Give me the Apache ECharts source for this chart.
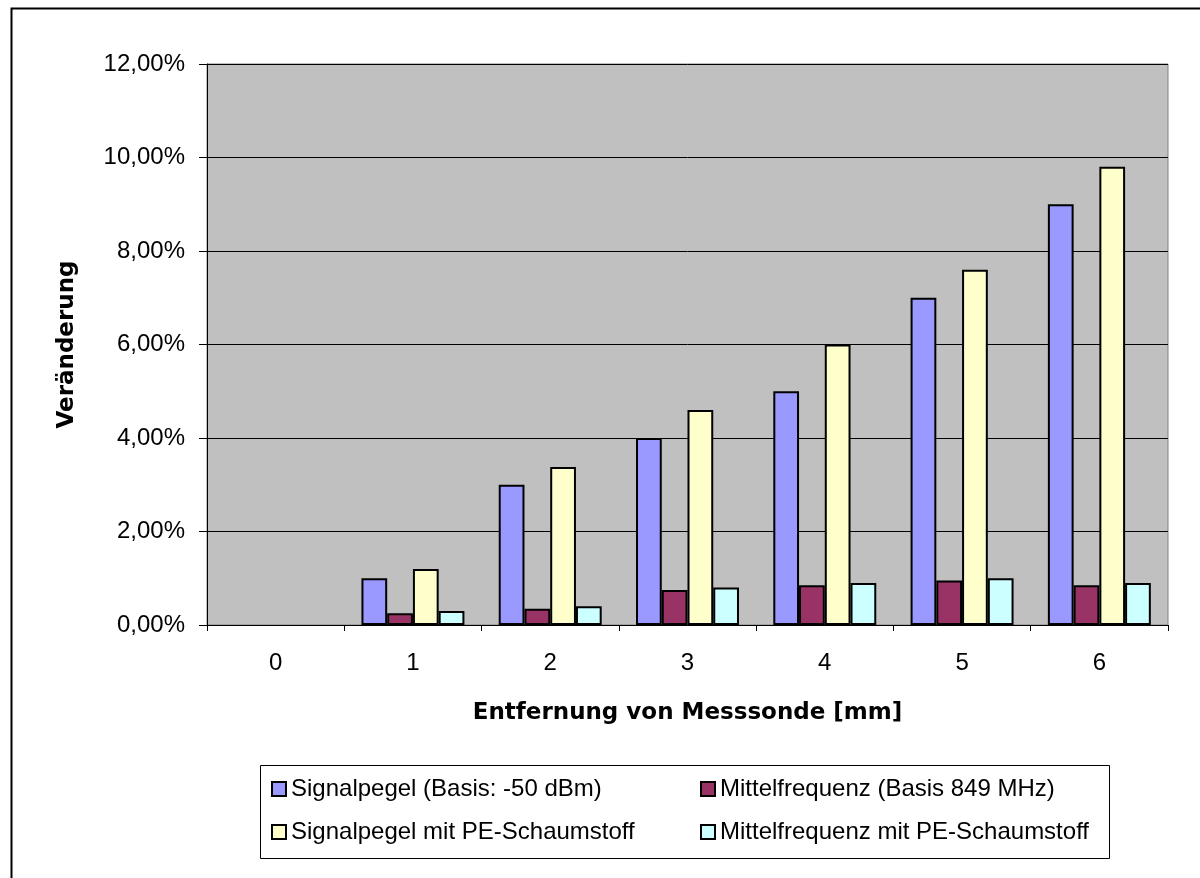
<!DOCTYPE html>
<html>
<head>
<meta charset="utf-8">
<script src="https://cdn.jsdelivr.net/npm/echarts@6/dist/echarts.min.js"></script>
<style>
  html, body { margin: 0; padding: 0; background: #ffffff; }
  #chart { width: 1200px; height: 878px; }
</style>
</head>
<body>
<div id="chart"></div>
<script>
// Distance from probe (mm)
const categories = ['0', '1', '2', '3', '4', '5', '6'];

// Relative change in percent
const signalpegel      = [0, 1.0, 3.0, 4.0, 5.0, 7.0, 9.0];
const mittelfrequenz   = [0, 0.25, 0.35, 0.75, 0.85, 0.95, 0.85];
const signalpegelPE    = [0, 1.2, 3.38, 4.6, 6.0, 7.6, 9.8];
const mittelfrequenzPE = [0, 0.3, 0.4, 0.8, 0.9, 1.0, 0.9];

const seriesNames = [
  'Signalpegel (Basis: -50 dBm)',
  'Mittelfrequenz (Basis 849 MHz)',
  'Signalpegel mit PE-Schaumstoff',
  'Mittelfrequenz mit PE-Schaumstoff'
];
const seriesColors = ['#9999FF', '#993366', '#FFFFCC', '#CCFFFF'];
const seriesData = [signalpegel, mittelfrequenz, signalpegelPE, mittelfrequenzPE];

// y axis: 0 … 12 % in 2 % steps, German decimal comma
const yMin = 0, yMax = 12, yStep = 2;

const FONT = '"Liberation Sans", Arial, Helvetica, sans-serif';
// axis titles are set in a wider bold face
const TITLE_FONT = '"DejaVu Sans", "Liberation Sans", Arial, sans-serif';

function pct(v) {
  return v.toFixed(2).replace('.', ',') + '%';
}

const chart = echarts.init(document.getElementById('chart'), null, { renderer: 'canvas' });

const legendText = { fontFamily: FONT, fontSize: 24, color: '#000' };
const legendCommon = {
  orient: 'vertical',
  top: 777,
  itemWidth: 14,
  itemHeight: 14,
  itemGap: 19,
  padding: 0,
  icon: 'rect',
  textStyle: legendText,
  itemStyle: { borderColor: '#000', borderWidth: 2 },
  selectedMode: false
};

chart.setOption({
  backgroundColor: '#ffffff',
  animation: false,
  graphic: [
    // outer chart frame
    { type: 'rect', left: 9, top: 6, shape: { width: 1300, height: 1000 },
      style: { fill: 'none', stroke: '#000', lineWidth: 2 }, z: 0 },
    // legend frame
    { type: 'rect', left: 260, top: 765, shape: { width: 849, height: 93 },
      style: { fill: '#fff', stroke: '#000', lineWidth: 1 }, z: 1 }
  ],
  grid: {
    left: 207, right: 32, top: 64, bottom: 253,
    show: true,
    backgroundColor: '#C0C0C0',
    borderColor: '#808080',
    borderWidth: 1
  },
  legend: [
    Object.assign({}, legendCommon, { left: 271, data: [seriesNames[0], seriesNames[2]] }),
    Object.assign({}, legendCommon, { left: 700, data: [seriesNames[1], seriesNames[3]] })
  ],
  xAxis: {
    type: 'category',
    data: categories,
    boundaryGap: true,
    name: 'Entfernung von Messsonde [mm]',
    nameLocation: 'middle',
    nameGap: 77,
    nameTextStyle: { fontFamily: TITLE_FONT, fontSize: 23, fontWeight: 'bold', color: '#000' },
    axisLine: { show: true, lineStyle: { color: '#000', width: 1 } },
    axisTick: { show: true, interval: 0, length: 6, lineStyle: { color: '#000' } },
    axisLabel: { fontFamily: FONT, fontSize: 24, color: '#000', margin: 26 },
    splitLine: { show: false }
  },
  yAxis: {
    type: 'value',
    min: yMin,
    max: yMax,
    interval: yStep,
    name: 'Veränderung',
    nameLocation: 'middle',
    nameRotate: 90,
    nameGap: 128,
    nameTextStyle: { fontFamily: TITLE_FONT, fontSize: 23, fontWeight: 'bold', color: '#000' },
    axisLine: { show: true, lineStyle: { color: '#000', width: 1 } },
    axisTick: { show: true, length: 8, lineStyle: { color: '#000' } },
    axisLabel: { fontFamily: FONT, fontSize: 24, color: '#000', margin: 22, formatter: pct },
    splitLine: { show: true, lineStyle: { color: '#000', width: 1 } }
  },
  series: seriesData.map((d, i) => ({
    name: seriesNames[i],
    type: 'bar',
    data: d.map(v => (v === 0 ? { value: 0, itemStyle: { borderWidth: 0 } } : v)),
    barGap: '0%',
    barCategoryGap: '25%',
    itemStyle: { color: seriesColors[i], borderColor: '#000', borderWidth: 2 }
  }))
});
</script>
</body>
</html>
